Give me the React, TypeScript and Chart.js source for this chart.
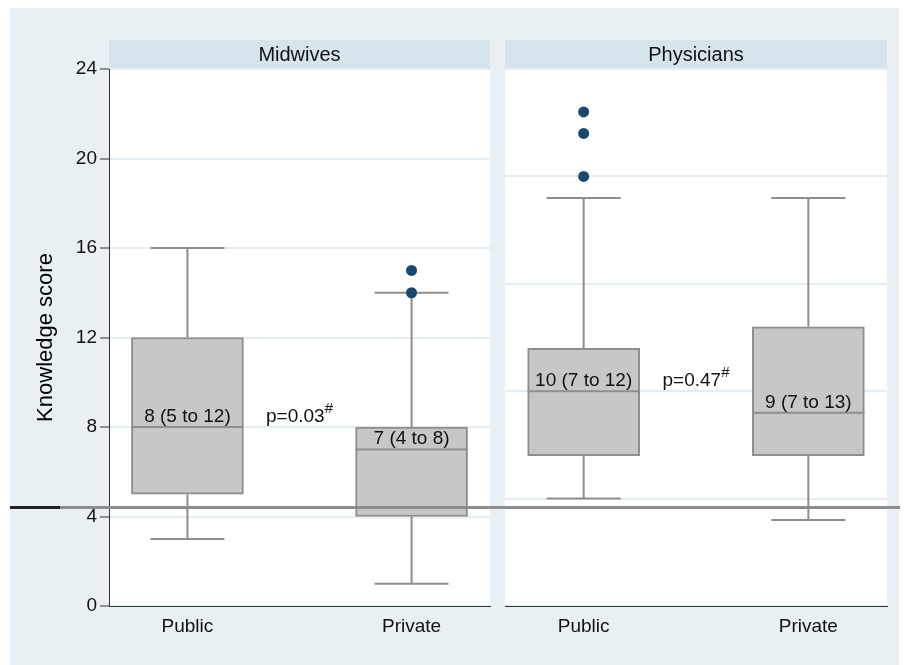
import React, { useEffect, useRef } from 'react';
import { Chart, registerables } from 'chart.js';

Chart.register(...registerables);

// ---------- data ----------
const categories = ['Public', 'Private'];
const categoryPositions = [1, 2];

const midwivesMin = [3, 1];
const midwivesQ1 = [5, 4];
const midwivesMedian = [8, 7];
const midwivesQ3 = [12, 8];
const midwivesMax = [16, 14];
const midwivesOutliers = [[], [14, 15]];
const midwivesLabels = ['8 (5 to 12)', '7 (4 to 8)'];
const midwivesP = 'p=0.03';
const midwivesTicks = [0, 4, 8, 12, 16, 20, 24];

const physiciansMin = [5, 4];
const physiciansQ1 = [7, 7];
const physiciansMedian = [10, 9];
const physiciansQ3 = [12, 13];
const physiciansMax = [19, 19];
const physiciansOutliers = [[20, 22, 23], []];
const physiciansLabels = ['10 (7 to 12)', '9 (7 to 13)'];
const physiciansP = 'p=0.47';
const physiciansTicks = [0, 5, 10, 15, 20, 25];

const yTitle = 'Knowledge score';
const pSuperscript = '#';

// ---------- style ----------
const FONT = '"Liberation Sans", Arial, Helvetica, sans-serif';
const BG = '#e9f0f4';
const HEADER_BG = '#d8e4eb';
const HEADER_H = 29;
const GRID = '#e4edf2';
const BOX_FILL = '#c7c7c7';
const BOX_LINE = '#8e8e8e';
const DOT = '#1a476f';
const TEXT = '#111111';
const BOX_HALF = 0.25;
const CAP_HALF = 0.165;

type Panel = {
  title: string;
  min: number[];
  q1: number[];
  median: number[];
  q3: number[];
  max: number[];
  outliers: number[][];
  labels: string[];
  p: string;
  yTicks: number[];
  showYAxis: boolean;
};

const panels: Panel[] = [
  {
    title: 'Midwives',
    min: midwivesMin,
    q1: midwivesQ1,
    median: midwivesMedian,
    q3: midwivesQ3,
    max: midwivesMax,
    outliers: midwivesOutliers,
    labels: midwivesLabels,
    p: midwivesP,
    yTicks: midwivesTicks,
    showYAxis: true,
  },
  {
    title: 'Physicians',
    min: physiciansMin,
    q1: physiciansQ1,
    median: physiciansMedian,
    q3: physiciansQ3,
    max: physiciansMax,
    outliers: physiciansOutliers,
    labels: physiciansLabels,
    p: physiciansP,
    yTicks: physiciansTicks,
    showYAxis: false,
  },
];

function makePlugin(panel: Panel) {
  return {
    id: 'boxDecor',
    beforeDraw(chart: any) {
      const { ctx, chartArea: a } = chart;
      ctx.save();
      ctx.fillStyle = '#ffffff';
      ctx.fillRect(a.left, a.top, a.right - a.left, a.bottom - a.top);
      ctx.fillStyle = HEADER_BG;
      ctx.fillRect(a.left, a.top - HEADER_H, a.right - a.left, HEADER_H);
      ctx.fillStyle = TEXT;
      ctx.font = `20px ${FONT}`;
      ctx.textAlign = 'center';
      ctx.textBaseline = 'middle';
      ctx.fillText(panel.title, (a.left + a.right) / 2, a.top - HEADER_H / 2 + 1);
      ctx.restore();
    },
    beforeDatasetsDraw(chart: any) {
      const { ctx } = chart;
      const xs = chart.scales.x;
      const ys = chart.scales.y;
      ctx.save();
      ctx.strokeStyle = BOX_LINE;
      ctx.lineWidth = 2;
      categoryPositions.forEach((pos, i) => {
        const cx = xs.getPixelForValue(pos);
        const cl = xs.getPixelForValue(pos - CAP_HALF);
        const cr = xs.getPixelForValue(pos + CAP_HALF);
        const yMax = ys.getPixelForValue(panel.max[i]);
        const yQ3 = ys.getPixelForValue(panel.q3[i]);
        const yQ1 = ys.getPixelForValue(panel.q1[i]);
        const yMin = ys.getPixelForValue(panel.min[i]);
        ctx.beginPath();
        ctx.moveTo(cx, yQ3);
        ctx.lineTo(cx, yMax);
        ctx.moveTo(cl, yMax);
        ctx.lineTo(cr, yMax);
        ctx.moveTo(cx, yQ1);
        ctx.lineTo(cx, yMin);
        ctx.moveTo(cl, yMin);
        ctx.lineTo(cr, yMin);
        ctx.stroke();
      });
      ctx.restore();
    },
    afterDatasetsDraw(chart: any) {
      const { ctx } = chart;
      const xs = chart.scales.x;
      const ys = chart.scales.y;
      ctx.save();
      ctx.strokeStyle = BOX_LINE;
      ctx.lineWidth = 2;
      categoryPositions.forEach((pos, i) => {
        const l = xs.getPixelForValue(pos - BOX_HALF);
        const r = xs.getPixelForValue(pos + BOX_HALF);
        const ym = ys.getPixelForValue(panel.median[i]);
        ctx.beginPath();
        ctx.moveTo(l, ym);
        ctx.lineTo(r, ym);
        ctx.stroke();
        ctx.fillStyle = TEXT;
        ctx.font = `19px ${FONT}`;
        ctx.textAlign = 'center';
        ctx.textBaseline = 'alphabetic';
        ctx.fillText(panel.labels[i], xs.getPixelForValue(pos), ym - 5);
      });
      // p-value between the two boxes, aligned with the first median label
      const baseY = ys.getPixelForValue(panel.median[0]) - 5;
      const midX = xs.getPixelForValue((categoryPositions[0] + categoryPositions[1]) / 2);
      ctx.font = `19px ${FONT}`;
      const w1 = ctx.measureText(panel.p).width;
      ctx.font = `15px ${FONT}`;
      const w2 = ctx.measureText(pSuperscript).width;
      const start = midX - (w1 + w2) / 2;
      ctx.textAlign = 'left';
      ctx.fillStyle = TEXT;
      ctx.font = `19px ${FONT}`;
      ctx.fillText(panel.p, start, baseY);
      ctx.font = `15px ${FONT}`;
      ctx.fillText(pSuperscript, start + w1, baseY - 9);
      ctx.restore();
    },
  };
}

function PanelChart({ panel, width, height, left, padding, yWidth }: any) {
  const ref = useRef<HTMLCanvasElement | null>(null);
  useEffect(() => {
    if (!ref.current) return;
    const yMin = panel.yTicks[0];
    const yMaxV = panel.yTicks[panel.yTicks.length - 1];
    const chart = new Chart(ref.current, {
      type: 'bar',
      data: {
        datasets: [
          {
            type: 'bar',
            data: categoryPositions.map((x: number, i: number) => ({ x, y: [panel.q1[i], panel.q3[i]] })),
            backgroundColor: BOX_FILL,
            borderColor: BOX_LINE,
            borderWidth: 2,
            borderSkipped: false,
            barThickness: 112,
            order: 2,
          } as any,
          {
            type: 'scatter',
            data: panel.outliers.flatMap((vals: number[], i: number) =>
              vals.map((v) => ({ x: categoryPositions[i], y: v }))
            ),
            backgroundColor: DOT,
            borderColor: DOT,
            borderWidth: 0,
            pointRadius: 5.5,
            order: 1,
          } as any,
        ],
      },
      options: {
        responsive: false,
        animation: false,
        events: [],
        layout: { padding },
        plugins: {
          legend: { display: false },
          tooltip: { enabled: false },
        },
        scales: {
          x: {
            type: 'linear',
            min: 0.65,
            max: 2.35,
            offset: false,
            grid: { display: false, drawTicks: false },
            border: { display: true, color: '#333333', width: 1 },
            afterBuildTicks: (axis: any) => {
              axis.ticks = categoryPositions.map((v) => ({ value: v }));
            },
            ticks: {
              autoSkip: false,
              maxRotation: 0,
              padding: 9,
              color: TEXT,
              font: { family: FONT, size: 19 },
              callback: (v: any) => categories[categoryPositions.indexOf(Number(v))],
            },
            afterFit: (axis: any) => {
              axis.height = height - 598;
            },
          },
          y: {
            type: 'linear',
            min: yMin,
            max: yMaxV,
            afterBuildTicks: (axis: any) => {
              axis.ticks = panel.yTicks.map((v: number) => ({ value: v }));
            },
            grid: {
              color: GRID,
              lineWidth: 2,
              drawTicks: panel.showYAxis,
              tickLength: 9,
              tickColor: '#333333',
              tickWidth: 1,
            },
            border: { display: panel.showYAxis, color: '#333333', width: 1 },
            ticks: {
              display: panel.showYAxis,
              padding: 3,
              color: TEXT,
              font: { family: FONT, size: 19 },
            },
            title: {
              display: panel.showYAxis,
              text: yTitle,
              color: '#000000',
              font: { family: FONT, size: 22 },
              padding: { top: 23, bottom: 0 },
            },
            afterFit: (axis: any) => {
              axis.width = yWidth;
            },
          },
        },
      } as any,
      plugins: [makePlugin(panel) as any],
    });
    return () => chart.destroy();
  }, []);
  return (
    <canvas
      ref={ref}
      width={width}
      height={height}
      style={{ position: 'absolute', left, top: 0, width, height }}
    />
  );
}

export default function App() {
  const H = 657;
  return (
    <div
      style={{
        position: 'relative',
        marginLeft: 2,
        width: 889,
        height: H,
        background: BG,
      }}
    >
      <PanelChart
        panel={panels[0]}
        width={487}
        height={H}
        left={0}
        padding={{ top: 61, right: 7, left: 0, bottom: 0 }}
        yWidth={99}
      />
      <PanelChart
        panel={panels[1]}
        width={402}
        height={H}
        left={487}
        padding={{ top: 61, right: 12, left: 8, bottom: 0 }}
        yWidth={0}
      />
      <div
        style={{
          position: 'absolute',
          left: 0,
          top: 498,
          width: 898,
          height: 3,
          background: '#8d8d8d',
          zIndex: 2,
        }}
      />
      <div
        style={{
          position: 'absolute',
          left: 0,
          top: 498,
          width: 50,
          height: 3,
          background: '#222222',
          zIndex: 3,
        }}
      />
    </div>
  );
}
